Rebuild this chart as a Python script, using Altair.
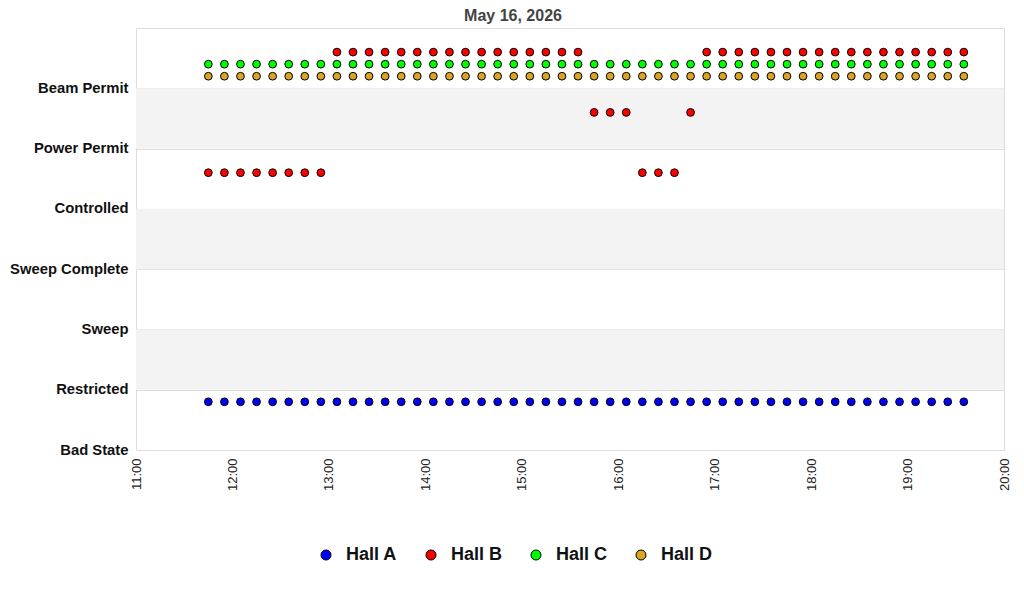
import altair as alt
import pandas as pd

states = ["Bad State", "Restricted", "Sweep", "Sweep Complete",
          "Controlled", "Power Permit", "Beam Permit"]
halls = ["Hall A", "Hall B", "Hall C", "Hall D"]
hall_colors = ["#0000ff", "#ff0000", "#00ff00", "#daa520"]

times = ["11:45", "11:55", "12:05", "12:15", "12:25", "12:35", "12:45", "12:55",
         "13:05", "13:15", "13:25", "13:35", "13:45", "13:55", "14:05", "14:15",
         "14:25", "14:35", "14:45", "14:55", "15:05", "15:15", "15:25", "15:35",
         "15:45", "15:55", "16:05", "16:15", "16:25", "16:35", "16:45", "16:55",
         "17:05", "17:15", "17:25", "17:35", "17:45", "17:55", "18:05", "18:15",
         "18:25", "18:35", "18:45", "18:55", "19:05", "19:15", "19:25", "19:35"]

hall_a = ["Bad State"] * 48
hall_b = (["Controlled"] * 8 + ["Beam Permit"] * 16 + ["Power Permit"] * 3
          + ["Controlled"] * 3 + ["Power Permit"] * 1 + ["Beam Permit"] * 17)
hall_c = ["Beam Permit"] * 48
hall_d = ["Beam Permit"] * 48

band_starts = [1, 3, 5]

rows = []
for hall, series in zip(halls, [hall_a, hall_b, hall_c, hall_d]):
    for t, s in zip(times, series):
        rows.append({"t": "2026-05-16T" + t + ":00", "hall": hall,
                     "state": s, "level": states.index(s)})
df = pd.DataFrame(rows)

yscale = alt.Scale(domain=[0, 7], nice=False, zero=False)
label_expr = "[" + ",".join("'" + s + "'" for s in states) + "][datum.value]"
yaxis = alt.Axis(values=list(range(7)), labelExpr=label_expr,
                 labelFontWeight="bold", labelFontSize=14.8,
                 labelColor="#111", labelFont="Liberation Sans",
                 ticks=False, domain=False, grid=True, gridColor="#dddddd",
                 labelPadding=8, title=None)

bands = alt.Chart(pd.DataFrame({"lo": band_starts})).transform_calculate(
    hi="datum.lo + 1"
).mark_rect(color="#f3f3f3").encode(
    y=alt.Y("lo:Q", scale=yscale, axis=yaxis),
    y2="hi:Q",
)

offset_expr = ("datum.hall == 'Hall A' ? 0.8 : datum.hall == 'Hall B' ? 0.6 : "
               "datum.hall == 'Hall C' ? 0.4 : 0.2")

points = alt.Chart(df).transform_calculate(
    yv="datum.level + (" + offset_expr + ")"
).mark_circle(size=60, opacity=1, stroke="black", strokeWidth=1).encode(
    x=alt.X("t:T",
            scale=alt.Scale(domain=["2026-05-16T11:00:00", "2026-05-16T20:00:00"]),
            axis=alt.Axis(format="%H:%M", labelAngle=270, grid=False, ticks=False,
                          domain=False, labelFontSize=13, labelColor="#222",
                          labelFont="Liberation Sans", labelPadding=8,
                          tickCount="hour", title=None)),
    y=alt.Y("yv:Q", scale=yscale, axis=yaxis),
    color=alt.Color("hall:N", scale=alt.Scale(domain=halls, range=hall_colors),
                    legend=alt.Legend(orient="none", legendX=181, legendY=518,
                                      direction="horizontal", title=None,
                                      labelFontSize=18, labelFontWeight="bold",
                                      labelFont="Liberation Sans", labelColor="#111",
                                      symbolSize=100, symbolType="circle",
                                      symbolStrokeColor="black", symbolStrokeWidth=1,
                                      labelOffset=11, columnPadding=24)),
)

chart = alt.layer(bands, points).resolve_axis(y="shared").properties(
    width=868, height=422,
    autosize=alt.AutoSizeParams(type="none"),
    padding={"left": 128, "top": 20, "right": 12, "bottom": 142},
    title=alt.TitleParams("May 16, 2026", fontSize=16, fontWeight="bold",
                          color="#444444", font="Liberation Sans",
                          anchor="middle", offset=4, dx=-57),
).configure_view(stroke="#dddddd")

chart.save("out.html", embed_options={"renderer": "svg", "actions": False})
